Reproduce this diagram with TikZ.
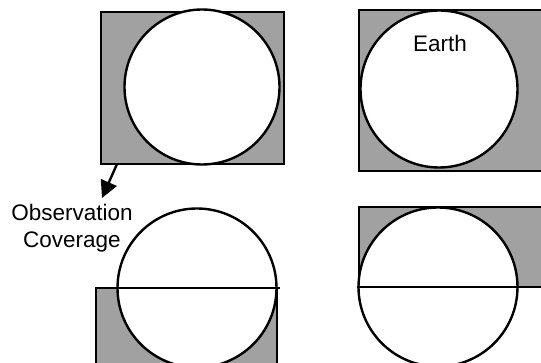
\documentclass[tikz,border=0pt]{standalone}
\usepackage{fontspec}
\setmainfont{Liberation Sans}
\usetikzlibrary{arrows.meta}
\begin{document}
\begin{tikzpicture}[x=1pt,y=-1pt,
  cover/.style={fill=black!37, draw=black, line width=2.6pt},
  earth/.style={circle, draw=black, fill=white, line width=2.4pt, inner sep=0pt},
  lbl/.style={font=\fontsize{22.5}{27}\selectfont, align=center, inner sep=0pt},
  cut/.style={draw=black, line width=2.4pt}]
\useasboundingbox (0,0) rectangle (541,363);
% top-left
\path[cover] (101,12) rectangle (284,164);
\node[earth, minimum size=155pt] (e1) at (202,87) {};
% top-right
\path[cover] (359,10) rectangle (545,171);
\node[earth, minimum size=157pt] (e2) at (439,89) {};
\node[lbl] (earthlbl) at (440,43) {Earth};
% bottom-left
\path[cover] (96,288) rectangle (277,370);
\node[earth, minimum size=159pt] (e3) at (197,288) {};
\draw[cut] (e3.west) -- (280,288);
% bottom-right
\path[cover] (359,207) rectangle (545,287);
\node[earth, minimum size=159pt] (e4) at (438,287) {};
\draw[cut] (e4.west) -- (545,287);
% label and arrow
\node[lbl] (obs) at (72,228) {Observation\\Coverage};
\coordinate (a0) at (117,164);
\coordinate (a1) at (102,198);
\draw[line width=2.4pt, -{Triangle[length=17pt,width=17pt]}] (a0) -- (a1);
\end{tikzpicture}
\end{document}
